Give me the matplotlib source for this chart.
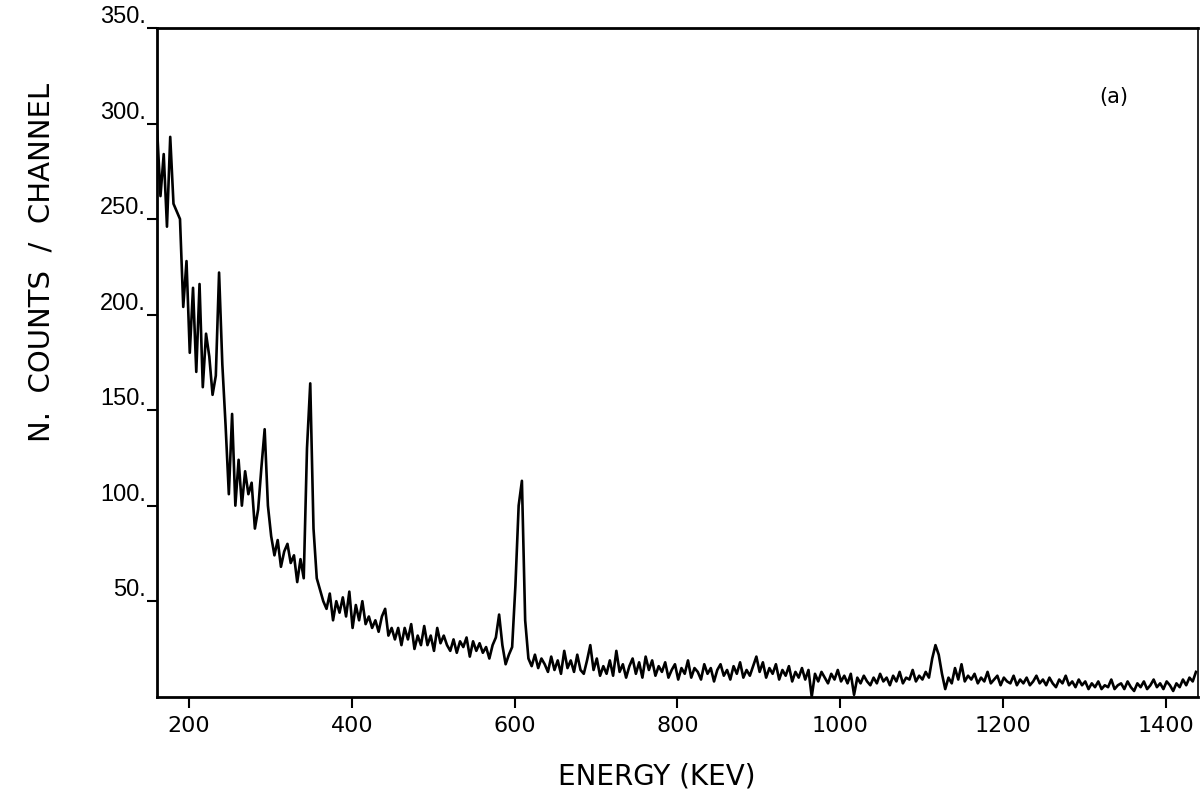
import numpy as np
import matplotlib
matplotlib.use("Agg")
import matplotlib.pyplot as plt

# ---- data ----
ENERGY_START = 161   # keV, first channel shown
ENERGY_STEP = 4      # keV per plotted bin
counts = [
    296, 262, 284, 246, 293, 258, 254, 250, 204, 228,
    180, 214, 170, 216, 162, 190, 178, 158, 168, 222,
    174, 142, 106, 148, 100, 124, 100, 118, 106, 112,
    88, 98, 120, 140, 100, 84, 74, 82, 68, 76,
    80, 70, 74, 60, 72, 62, 130, 164, 88, 62,
    56, 50, 46, 54, 40, 50, 44, 52, 42, 55,
    36, 48, 40, 50, 38, 42, 36, 40, 34, 42,
    46, 32, 36, 30, 36, 27, 36, 30, 38, 25,
    32, 27, 37, 27, 32, 24, 36, 28, 32, 27,
    24, 30, 23, 29, 26, 31, 21, 29, 24, 28,
    23, 26, 20, 27, 31, 43, 27, 17, 22, 26,
    58, 100, 113, 40, 20, 16, 22, 15, 20, 17,
    13, 21, 14, 19, 12, 24, 15, 19, 13, 22,
    14, 12, 19, 27, 14, 20, 11, 16, 12, 19,
    11, 24, 13, 17, 10, 16, 20, 12, 18, 10,
    21, 14, 19, 11, 16, 13, 18, 10, 14, 17,
    9, 15, 12, 19, 10, 15, 13, 9, 17, 12,
    15, 8, 14, 17, 11, 14, 9, 16, 12, 18,
    10, 14, 11, 16, 21, 13, 18, 10, 15, 12,
    17, 9, 14, 11, 16, 8, 13, 10, 15, 9,
    14, 0, 12, 8, 13, 10, 7, 12, 9, 14,
    8, 11, 7, 12, 1, 10, 7, 11, 8, 6,
    10, 7, 12, 8, 10, 6, 11, 8, 13, 7,
    10, 9, 14, 8, 11, 9, 13, 10, 20, 27,
    22, 12, 4, 10, 7, 15, 9, 17, 8, 11,
    9, 12, 7, 10, 8, 13, 7, 9, 11, 6,
    10, 8, 7, 11, 6, 9, 7, 10, 6, 8,
    11, 7, 9, 6, 10, 7, 5, 9, 7, 11,
    6, 8, 5, 9, 6, 8, 4, 7, 5, 8,
    4, 6, 5, 9, 4, 6, 7, 4, 8, 5,
    3, 7, 5, 8, 4, 6, 9, 5, 7, 4,
    8, 6, 3, 7, 5, 9, 6, 10, 8, 13,
]
x_ticks = [200, 400, 600, 800, 1000, 1200, 1400]
y_ticks = [50, 100, 150, 200, 250, 300, 350]
x_label = "ENERGY (KEV)"
y_label = "N.  COUNTS  /  CHANNEL"
panel_tag = "(a)"
panel_tag_pos = (1336, 314)

energy = ENERGY_START + ENERGY_STEP * np.arange(len(counts))

# ---- figure ----
fig = plt.figure(figsize=(12, 7.99), dpi=100)
ax = fig.add_axes([0.131, 0.128, 0.867, 0.837])

ax.plot(energy, counts, color="black", lw=1.9)

ax.set_xlim(161, 1439)
ax.set_ylim(0, 350)

ax.set_xticks(x_ticks)
ax.set_xticklabels([str(v) for v in x_ticks], family="DejaVu Sans", fontsize=16)
ax.set_yticks(y_ticks)
ax.set_yticklabels([f"{v}." for v in y_ticks],
                   family=["Liberation Sans", "DejaVu Sans"], fontsize=17)
for lab in ax.get_yticklabels():
    lab.set_va("bottom")

ax.tick_params(axis="x", direction="out", length=8, width=1.5, pad=6)
ax.tick_params(axis="y", direction="out", length=7, width=1.5, pad=1)

for side in ["left", "bottom", "top"]:
    ax.spines[side].set_linewidth(2)
ax.spines["right"].set_linewidth(1.2)
ax.spines["right"].set_linestyle((0, (3, 1)))

ax.set_xlabel(x_label, family="DejaVu Sans", fontsize=20)
ax.xaxis.set_label_coords(0.48, -0.098)
ax.set_ylabel(y_label, family="DejaVu Sans", fontsize=21)
ax.yaxis.set_label_coords(-0.098, 0.65)

ax.text(panel_tag_pos[0], panel_tag_pos[1], panel_tag, fontsize=15,
        ha="center", va="center", family="DejaVu Sans")

fig.savefig("out.png", dpi=100)
